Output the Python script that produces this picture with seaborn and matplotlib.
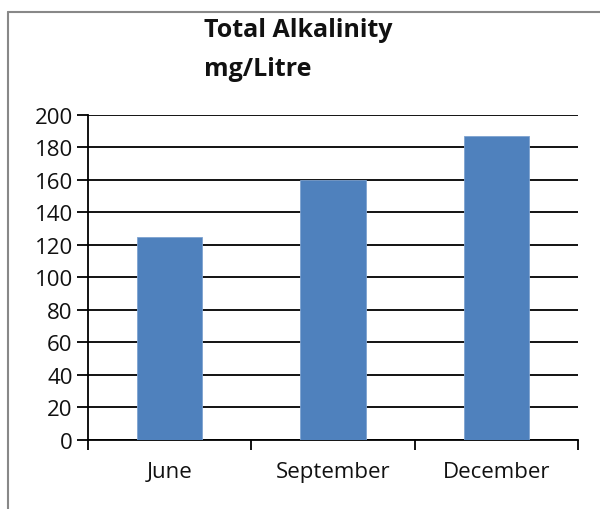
import matplotlib
matplotlib.use("Agg")
import matplotlib.pyplot as plt
from matplotlib.lines import Line2D
import seaborn as sns
import pandas as pd

# data
months = ["June", "September", "December"]
alkalinity = [125, 160, 187]
y_ticks = [0, 20, 40, 60, 80, 100, 120, 140, 160, 180, 200]

sns.set_theme(style="white")
plt.rcParams["font.family"] = ["Open Sans", "DejaVu Sans"]

df = pd.DataFrame({"month": months, "value": alkalinity})

fig = plt.figure(figsize=(6, 5.1), dpi=100)
ax = fig.add_axes([0.1467, 0.1353, 0.8167, 0.6373])

sns.barplot(data=df, x="month", y="value", color="#4F81BD", width=0.4,
            saturation=1, ax=ax, zorder=3, edgecolor="#7EA3D1", linewidth=0.6)

# black horizontal gridlines behind bars
ax.set_ylim(0, 200)
ax.set_xlim(-0.5, len(months) - 0.5)
ax.set_yticks(y_ticks)
ax.yaxis.grid(True, color="black", linewidth=1.3, zorder=0)
ax.set_axisbelow(True)

# category boundaries as major ticks, names as minor ticks
ax.set_xticks([i - 0.5 for i in range(len(months) + 1)])
ax.set_xticklabels([])
ax.set_xticks(range(len(months)), minor=True)
ax.set_xticklabels(months, minor=True)
ax.tick_params(axis="x", which="major", direction="out", length=7.5,
               width=1.3, color="black", bottom=True)
ax.tick_params(axis="x", which="minor", length=0, pad=15, labelsize=16,
               labelcolor="#111111")
ax.tick_params(axis="y", direction="out", length=8, width=1.3, color="black",
               left=True, pad=3, labelsize=16, labelcolor="#111111")

for side in ["top", "right"]:
    ax.spines[side].set_visible(False)
for side in ["left", "bottom"]:
    ax.spines[side].set_color("black")
    ax.spines[side].set_linewidth(1.3)

ax.set_xlabel("")
ax.set_ylabel("")

# title, left aligned like the original
fig.text(204 / 600, 1 - 18 / 510, "Total Alkalinity\nmg/Litre", ha="left",
         va="top", fontsize=18, fontweight="bold", linespacing=1.75,
         color="#111111")

# frame of the original chart area (left and top only)
fig.add_artist(Line2D([8 / 600, 8 / 600], [0, 1 - 13 / 510],
                      color="#888888", linewidth=1.5, transform=fig.transFigure))
fig.add_artist(Line2D([8 / 600, 1], [1 - 13 / 510, 1 - 13 / 510],
                      color="#888888", linewidth=1.5, transform=fig.transFigure))

fig.savefig("out.png", dpi=100)
